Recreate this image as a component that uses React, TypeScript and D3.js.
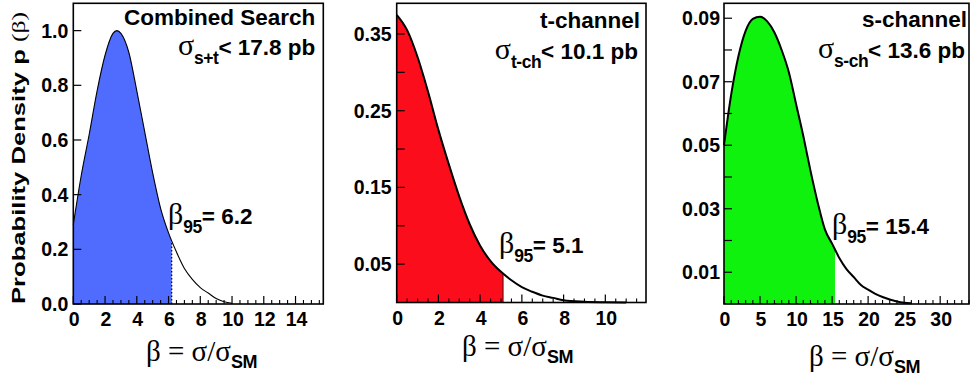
import React from 'react';
import * as d3 from 'd3';

// ---- data ----
const combinedBeta = [0, 0.5, 1, 1.5, 2, 2.5, 2.75, 3, 3.5, 4, 4.5, 5, 5.5, 6, 6.5, 7, 7.5, 8, 8.5, 9, 9.5, 10];
const combinedDensity = [0.29, 0.47, 0.62, 0.78, 0.91, 0.99, 1.0, 0.99, 0.92, 0.78, 0.63, 0.48, 0.35, 0.26, 0.19, 0.13, 0.09, 0.06, 0.04, 0.02, 0.008, 0.003];

const tchanBeta = [0, 0.5, 1, 1.5, 2, 2.5, 3, 3.5, 4, 4.5, 5, 5.5, 6, 6.5, 7, 7.5, 8, 9, 10, 11];
const tchanDensity = [0.375, 0.355, 0.32, 0.275, 0.225, 0.18, 0.138, 0.102, 0.074, 0.054, 0.04, 0.029, 0.02, 0.014, 0.009, 0.006, 0.003, 0.001, 0.0003, 0];

const schanBeta = [0, 1, 2, 3, 4, 5, 6, 7, 8, 9, 10, 11, 12, 13, 14, 15, 16, 17, 18, 19, 20, 21, 22, 23, 24, 25, 26];
const schanDensity = [0.05, 0.066, 0.078, 0.086, 0.0898, 0.0905, 0.089, 0.0855, 0.08, 0.073, 0.063, 0.053, 0.042, 0.032, 0.0235, 0.019, 0.0145, 0.011, 0.0085, 0.006, 0.0045, 0.0032, 0.0022, 0.0014, 0.0008, 0.0004, 0.0002];

const combinedXTicks = [0, 2, 4, 6, 8, 10, 12, 14];
const combinedYTicks = [0, 0.2, 0.4, 0.6, 0.8, 1.0];
const combinedYLabels = [0, 0.2, 0.4, 0.6, 0.8, 1.0];
const tchanXTicks = [0, 2, 4, 6, 8, 10];
const tchanYTicks = [0.05, 0.1, 0.15, 0.2, 0.25, 0.3, 0.35];
const tchanYLabels = [0.05, 0.15, 0.25, 0.35];
const schanXTicks = [0, 5, 10, 15, 20, 25, 30];
const schanYTicks = [0.01, 0.02, 0.03, 0.04, 0.05, 0.06, 0.07, 0.08, 0.09];
const schanYLabels = [0.01, 0.03, 0.05, 0.07, 0.09];

const titles = ['Combined Search', 't-channel', 's-channel'];
const sigmaSubs = ['s+t', 't-ch', 's-ch'];
const limits = ['17.8', '10.1', '13.6'];
const beta95 = [6.2, 5.1, 15.4];

const SANS = 'Liberation Sans, Arial, Helvetica, sans-serif';
const SERIF = 'Liberation Serif, Times New Roman, serif';

type PanelCfg = {
  beta: number[]; dens: number[];
  xTicks: number[]; minorStep: number; yTicks: number[]; yLabels: number[]; yFmt: string;
  left: number; right: number; top: number; bottom: number; xMax: number; yMax: number;
  fill: string; lineW: number; dotted: boolean; edgeLine: boolean;
  idx: number;
  titleDx: number; sigmaDx: number; sigmaY: number; titleY: number;
  b95X: number; b95Y: number; xTitleX: number; xTitleY: number; yLabDx: number;
};

const panels: PanelCfg[] = [
  {
    beta: combinedBeta, dens: combinedDensity, xTicks: combinedXTicks, minorStep: 0.5,
    yTicks: combinedYTicks, yLabels: combinedYLabels, yFmt: '.1f',
    left: 73.3, right: 323.3, top: 3.3, bottom: 304, xMax: 15.75, yMax: 1.1,
    fill: '#4f6cff', lineW: 1.1, dotted: true, edgeLine: false, idx: 0,
    titleDx: 8, sigmaDx: 8, sigmaY: 55, titleY: 25,
    b95X: 168, b95Y: 224, xTitleX: 146, xTitleY: 361, yLabDx: 5,
  },
  {
    beta: tchanBeta, dens: tchanDensity, xTicks: tchanXTicks, minorStep: 0.5,
    yTicks: tchanYTicks, yLabels: tchanYLabels, yFmt: '.2f',
    left: 396.7, right: 646, top: 3.3, bottom: 302.5, xMax: 11.95, yMax: 0.39,
    fill: '#fb0d1b', lineW: 2, dotted: false, edgeLine: true, idx: 1,
    titleDx: 6, sigmaDx: 8, sigmaY: 59, titleY: 28,
    b95X: 499, b95Y: 253, xTitleX: 462, xTitleY: 356, yLabDx: 5,
  },
  {
    beta: schanBeta, dens: schanDensity, xTicks: schanXTicks, minorStep: 1,
    yTicks: schanYTicks, yLabels: schanYLabels, yFmt: '.2f',
    left: 724, right: 969, top: 3.3, bottom: 304, xMax: 34.0, yMax: 0.0947,
    fill: '#0ef20e', lineW: 2, dotted: false, edgeLine: false, idx: 2,
    titleDx: 2, sigmaDx: 4, sigmaY: 58, titleY: 27,
    b95X: 832, b95Y: 234, xTitleX: 809, xTitleY: 366, yLabDx: 4,
  },
];

function Panel({ p }: { p: PanelCfg }) {
  const x = d3.scaleLinear().domain([0, p.xMax]).range([p.left, p.right]);
  const y = d3.scaleLinear().domain([0, p.yMax]).range([p.bottom, p.top]);
  const pts: [number, number][] = p.beta.map((b, i) => [b, p.dens[i]]);
  const line = d3.line<[number, number]>().x(d => x(d[0])).y(d => y(d[1])).curve(d3.curveMonotoneX);
  const area = d3.area<[number, number]>().x(d => x(d[0])).y0(y(0)).y1(d => y(d[1])).curve(d3.curveMonotoneX);
  const b95 = beta95[p.idx];
  const clipId = `clip95-${p.idx}`;
  const areaClip = `areaclip-${p.idx}`;
  const minor = d3.range(0, p.xMax + 1e-9, p.minorStep).filter(v => !p.xTicks.some(t => Math.abs(t - v) < 1e-6));
  const fmt = d3.format(p.yFmt);
  return (
    <g>
      <defs>
        <clipPath id={clipId}>
          <rect x={x(0)} y={p.top} width={x(b95) - x(0)} height={p.bottom - p.top} />
        </clipPath>
        <clipPath id={areaClip}>
          <path d={area(pts) || ''} />
        </clipPath>
      </defs>
      <path d={area(pts) || ''} fill={p.fill} clipPath={`url(#${clipId})`} />
      {p.dotted && (
        <line x1={x(b95)} x2={x(b95)} y1={p.bottom} y2={p.top} stroke="#000" strokeWidth={1.2}
          strokeDasharray="1.5,2" clipPath={`url(#${areaClip})`} />
      )}
      {p.edgeLine && (
        <line x1={x(b95)} x2={x(b95)} y1={p.bottom} y2={p.top} stroke="#000" strokeWidth={0.8}
          clipPath={`url(#${areaClip})`} />
      )}
      <path d={line(pts) || ''} fill="none" stroke="#000" strokeWidth={p.lineW} />
      {p.xTicks.map(t => (
        <line key={'xt' + t} x1={x(t)} x2={x(t)} y1={p.bottom} y2={p.bottom - 8} stroke="#000" strokeWidth={1.2} />
      ))}
      {minor.map(t => (
        <line key={'xm' + t} x1={x(t)} x2={x(t)} y1={p.bottom} y2={p.bottom - 4} stroke="#000" strokeWidth={1.1} />
      ))}
      {p.xTicks.map(t => (
        <text key={'xl' + t} x={x(t) + 1} y={p.bottom + 22} textAnchor="middle" fontFamily={SANS}
          fontWeight="bold" fontSize={19.5}>{t}</text>
      ))}
      {p.yTicks.map(t => (
        <line key={'yt' + t} x1={p.left} x2={p.left + 8} y1={y(t)} y2={y(t)} stroke="#000" strokeWidth={1.2} />
      ))}
      {p.yLabels.map(t => (
        <text key={'yl' + t} x={p.left - p.yLabDx} y={y(t) + 7} textAnchor="end" fontFamily={SANS}
          fontWeight="bold" fontSize={19.5}>{fmt(t)}</text>
      ))}
      <rect x={p.left} y={p.top} width={p.right - p.left} height={p.bottom - p.top} fill="none"
        stroke="#000" strokeWidth={1.6} />
      <text x={p.right - p.titleDx} y={p.titleY} textAnchor="end" fontFamily={SANS} fontWeight="bold"
        fontSize={22.5}>{titles[p.idx]}</text>
      <text x={p.right - p.sigmaDx} y={p.sigmaY} textAnchor="end" fontFamily={SANS} fontWeight="bold" fontSize={22.5}>
        <tspan fontFamily={SERIF} fontWeight="normal" fontSize={30}>σ</tspan>
        <tspan fontSize={17.5} dy={9} letterSpacing={-0.5}>{sigmaSubs[p.idx]}</tspan>
        <tspan dy={-9}>{'< ' + limits[p.idx] + ' pb'}</tspan>
      </text>
      <text x={p.b95X} y={p.b95Y} fontFamily={SANS} fontWeight="bold" fontSize={22.5}>
        <tspan fontFamily={SERIF} fontWeight="normal" fontSize={30}>β</tspan>
        <tspan fontSize={17.5} dy={9} letterSpacing={-0.5}>95</tspan>
        <tspan dy={-9}>{'= ' + b95}</tspan>
      </text>
      <text x={p.xTitleX} y={p.xTitleY} fontFamily={SERIF} fontSize={29}>
        <tspan>β = σ/σ</tspan>
        <tspan fontFamily={SANS} fontWeight="bold" fontSize={18} dy={7} letterSpacing={-0.5}>SM</tspan>
      </text>
    </g>
  );
}

export default function App() {
  return (
    <svg width={970} height={377} style={{ position: 'absolute', left: 0, top: 0, background: '#fff' }}>
      <rect width={970} height={377} fill="#fff" />
      {panels.map(p => <Panel key={p.idx} p={p} />)}
      <text transform="translate(25,158) rotate(-90)" textAnchor="middle" fontFamily={SANS}
        fontWeight="bold" fontSize={18.5} textLength={292} lengthAdjust="spacingAndGlyphs">
        Probability Density p <tspan fontFamily={SERIF} fontWeight="normal">(β)</tspan>
      </text>
    </svg>
  );
}
